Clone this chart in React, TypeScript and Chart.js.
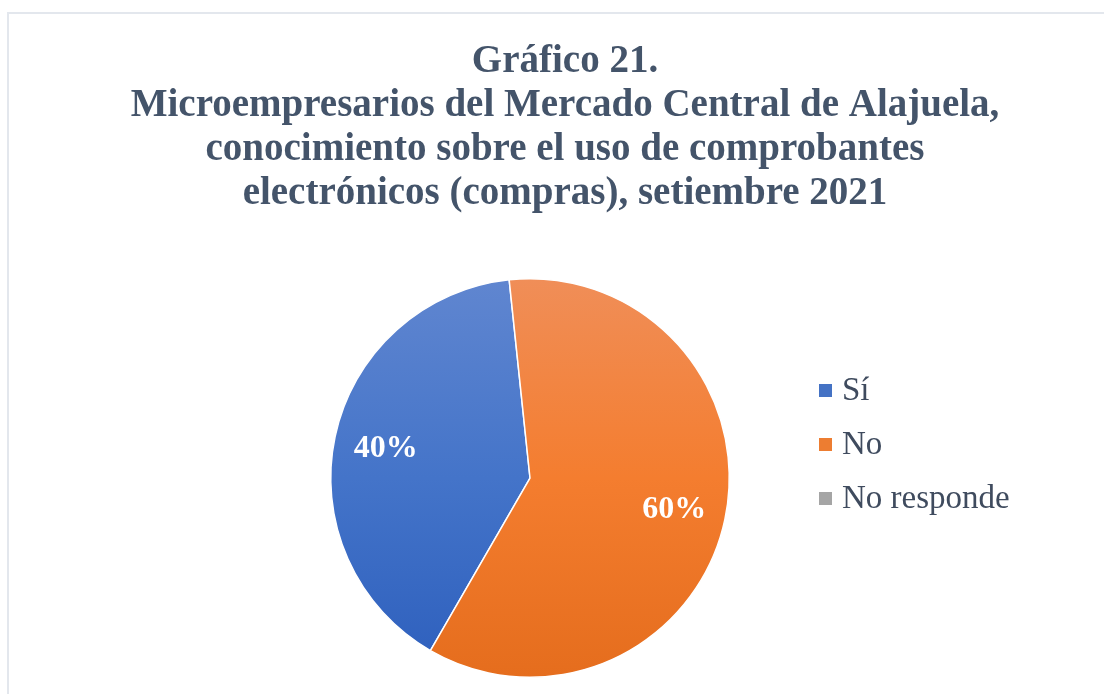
import React, { useEffect, useRef } from "react";
import { Chart, registerables } from "chart.js";

Chart.register(...registerables);

const titleLines = [
  "Gráfico 21.",
  "Microempresarios del Mercado Central de Alajuela,",
  "conocimiento sobre el uso de comprobantes",
  "electrónicos (compras), setiembre 2021",
];
const categories = ["Sí", "No", "No responde"];
const values = [40, 60, 0];
const labelsText = ["40%", "60%", ""];
const gradTop = ["#6086d0", "#f08e58", "#b5b5b5"];
const gradMid = ["#4474c9", "#f47d2f", "#a5a5a5"];
const gradBot = ["#2d5fbd", "#e56d1d", "#959595"];
const legendColors = ["#4472c4", "#ed7d31", "#a5a5a5"];

const W = 1104;
const H = 694;

const overlay = {
  id: "overlay",
  beforeDraw(chart: any) {
    const ctx = chart.ctx;
    ctx.save();
    ctx.fillStyle = "#ffffff";
    ctx.fillRect(0, 0, W, H);
    ctx.fillStyle = "#e3e7ed";
    ctx.fillRect(7, 12, W - 7, 2);
    ctx.fillRect(7, 12, 2, H - 12);
    // title
    ctx.fillStyle = "#44546a";
    ctx.font = "bold 39px 'Liberation Serif'";
    ctx.textAlign = "center";
    ctx.textBaseline = "alphabetic";
    const baselines = [72, 116, 160, 204];
    titleLines.forEach((t, i) => ctx.fillText(t, 565, baselines[i]));
    // legend
    ctx.font = "33px 'Liberation Serif'";
    ctx.textAlign = "left";
    const legBase = [400, 454, 508];
    categories.forEach((c, i) => {
      ctx.fillStyle = legendColors[i];
      ctx.fillRect(819, legBase[i] - 16, 13, 13);
      ctx.fillStyle = "#3f4b5e";
      ctx.fillText(c, 842, legBase[i]);
    });
    ctx.restore();
  },
  afterDatasetsDraw(chart: any) {
    const ctx = chart.ctx;
    const meta = chart.getDatasetMeta(0);
    ctx.save();
    ctx.fillStyle = "#ffffff";
    ctx.font = "bold 32px 'Liberation Serif'";
    ctx.textAlign = "center";
    ctx.textBaseline = "middle";
    meta.data.forEach((arc: any, i: number) => {
      if (!values[i]) return;
      const { x, y, startAngle, endAngle, outerRadius } = arc.getProps(
        ["x", "y", "startAngle", "endAngle", "outerRadius"],
        true
      );
      const mid = (startAngle + endAngle) / 2;
      const d = outerRadius * 0.74;
      ctx.fillText(labelsText[i], x + Math.cos(mid) * d, y + Math.sin(mid) * d + 1);
    });
    ctx.restore();
  },
};

export default function App() {
  const ref = useRef<HTMLCanvasElement>(null);
  useEffect(() => {
    const canvas = ref.current!;
    const chart = new Chart(canvas, {
      type: "pie",
      data: {
        labels: categories,
        datasets: [
          {
            data: values,
            backgroundColor: (c: any) => {
              const area = c.chart.chartArea;
              if (!area) return gradMid[c.dataIndex];
              const g = c.chart.ctx.createLinearGradient(0, area.top, 0, area.bottom);
              g.addColorStop(0, gradTop[c.dataIndex]);
              g.addColorStop(0.5, gradMid[c.dataIndex]);
              g.addColorStop(1, gradBot[c.dataIndex]);
              return g;
            },
            borderColor: "#ffffff",
            borderWidth: (c: any) => (values[c.dataIndex] ? 1.5 : 0),
          },
        ],
      },
      options: {
        responsive: false,
        animation: false,
        devicePixelRatio: 1,
        rotation: 210,
        layout: { padding: { top: 278, bottom: 16, left: 330, right: 374 } },
        plugins: {
          legend: { display: false },
          title: { display: false },
          tooltip: { enabled: false },
        },
      },
      plugins: [overlay],
    });
    return () => chart.destroy();
  }, []);
  return (
    <canvas
      ref={ref}
      width={W}
      height={H}
      style={{ position: "absolute", left: 0, top: 0, width: W, height: H }}
    />
  );
}
